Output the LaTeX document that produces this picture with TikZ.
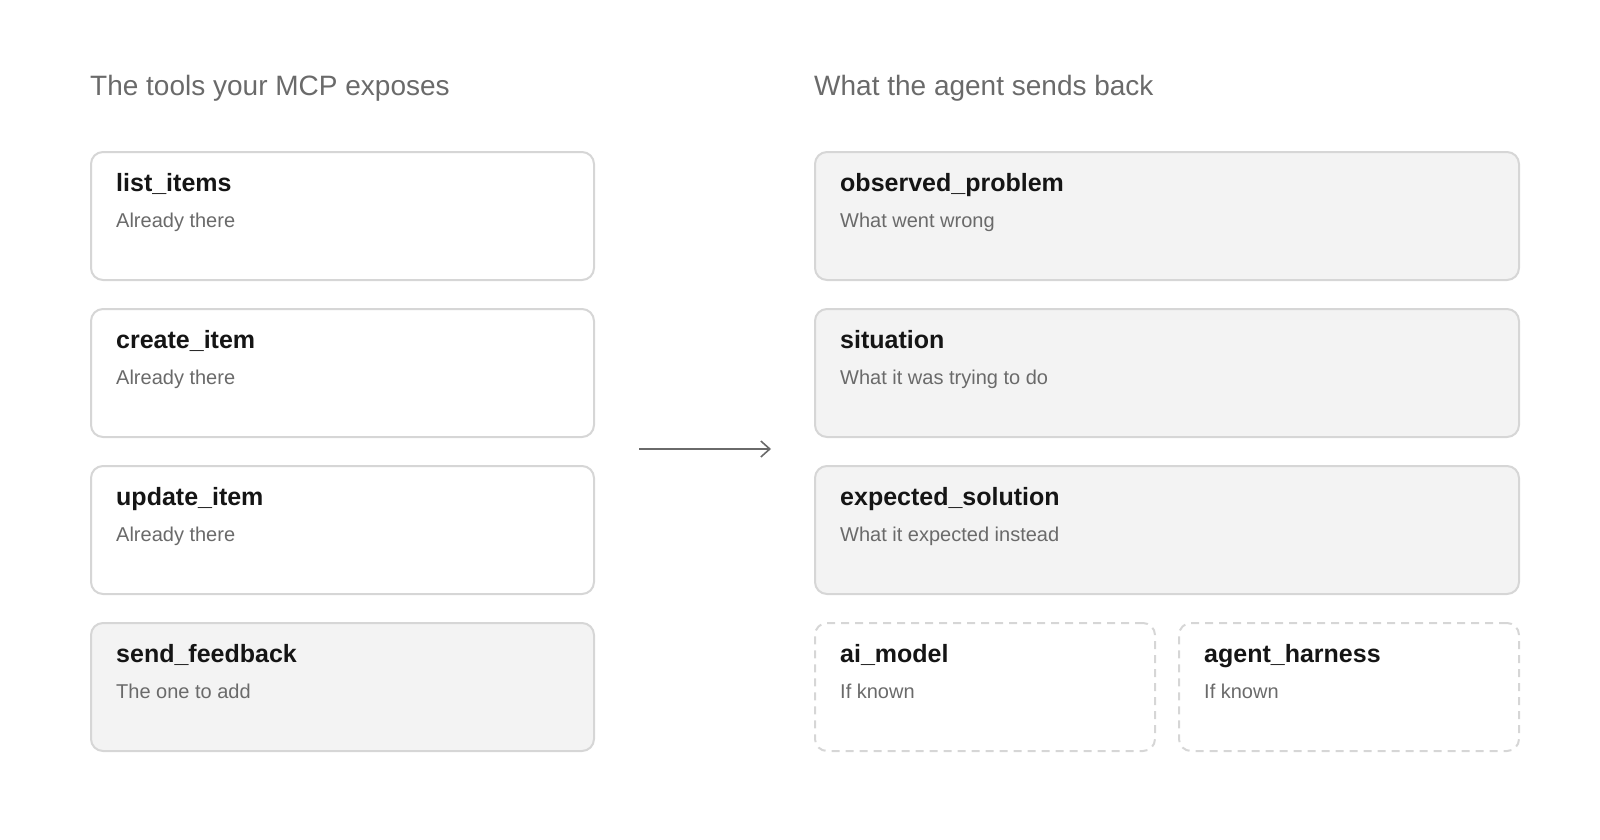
\documentclass[tikz,border=0pt]{standalone}
\usepackage{fontspec}
\setmainfont{Liberation Sans}
\usetikzlibrary{arrows.meta}
\definecolor{edge}{HTML}{D6D6D6}
\definecolor{shade}{HTML}{F3F3F3}
\definecolor{ink}{HTML}{151515}
\definecolor{muted}{HTML}{6A6A6A}
\tikzset{
  box/.style={draw=edge,line width=2pt,rounded corners=12pt,anchor=north west,inner sep=0pt},
  tool/.style={box,fill=white},
  field/.style={box,fill=shade},
  maybe/.style={box,dashed,dash pattern=on 8pt off 6pt},
  colhead/.style={anchor=base west,inner sep=0pt,text=muted,font=\fontsize{28}{32}\selectfont},
  cardtitle/.style={anchor=base west,inner sep=0pt,text=ink,font=\fontsize{25}{30}\selectfont\bfseries},
  cardnote/.style={anchor=base west,inner sep=0pt,text=muted,font=\fontsize{20}{24}\selectfont},
}
\newcommand\card[6]{% style, id, x, y, width, title
  \node[#1,minimum width=#5pt,minimum height=128pt] (#2) at (#3,#4) {};
  \node[cardtitle] (#2-t) at ([xshift=26pt,yshift=-40pt]#2.north west) {#6};
}
\begin{document}
\begin{tikzpicture}[x=1pt,y=-1pt]
  \useasboundingbox (0,0) rectangle (1600,840);
  \node[colhead] (left)  at (90,96)  {The tools your MCP exposes};
  \node[colhead] (right) at (814,96) {What the agent sends back};
  % left column
  \card{tool}{list}{90}{151}{503}{list\_items}
  \card{tool}{create}{90}{308}{503}{create\_item}
  \card{tool}{update}{90}{465}{503}{update\_item}
  \card{field}{send}{90}{622}{503}{send\_feedback}
  \node[cardnote] at ([yshift=-36pt]list-t.base west)   {Already there};
  \node[cardnote] at ([yshift=-36pt]create-t.base west) {Already there};
  \node[cardnote] at ([yshift=-36pt]update-t.base west) {Already there};
  \node[cardnote] at ([yshift=-36pt]send-t.base west)   {The one to add};
  % right column
  \card{field}{obs}{814}{151}{704}{observed\_problem}
  \card{field}{sit}{814}{308}{704}{situation}
  \card{field}{exp}{814}{465}{704}{expected\_solution}
  \card{maybe}{model}{814}{622}{340}{ai\_model}
  \card{maybe}{harness}{1178}{622}{340}{agent\_harness}
  \node[cardnote] at ([yshift=-36pt]obs-t.base west)     {What went wrong};
  \node[cardnote] at ([yshift=-36pt]sit-t.base west)     {What it was trying to do};
  \node[cardnote] at ([yshift=-36pt]exp-t.base west)     {What it expected instead};
  \node[cardnote] at ([yshift=-36pt]model-t.base west)   {If known};
  \node[cardnote] at ([yshift=-36pt]harness-t.base west) {If known};
  % arrow
  \coordinate (from) at (639,449);
  \coordinate (to)   at (771,449);
  \draw[muted,line width=1.6pt,-{Straight Barb[length=9pt,width=16pt]}] (from) -- (to);
\end{tikzpicture}
\end{document}
